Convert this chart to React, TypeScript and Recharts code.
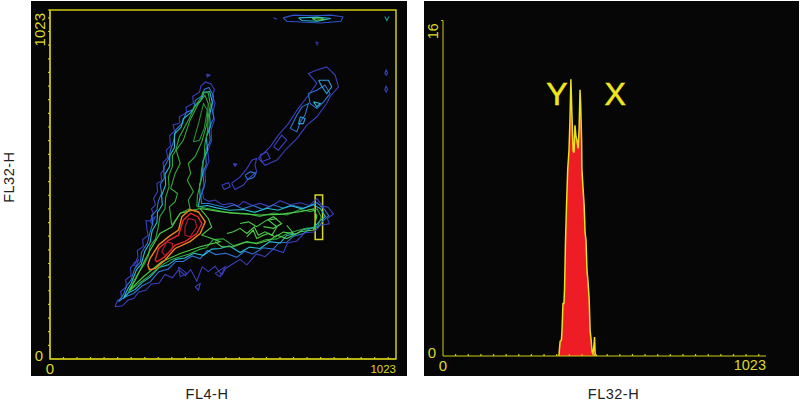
import { ScatterChart, Scatter, AreaChart, Area, XAxis, YAxis, ReferenceArea, ReferenceDot } from "recharts";

type Pt = [number, number];

// contour levels of the FL4-H / FL32-H plot, in channels
const outerBlue: Pt[] = [[192,153],[200,172],[212,178],[209,198],[226,212],[224,232],[240,245],[238,268],[252,280],[260,300],[258,318],[276,330],[274,350],[290,362],[286,385],[284,406],[298,404],[306,425],[300,440],[312,452],[306,470],[318,490],[316,515],[330,522],[328,545],[338,556],[334,575],[348,590],[344,612],[356,625],[354,655],[368,668],[364,686],[384,692],[382,710],[404,722],[402,738],[424,750],[422,770],[442,782],[446,800],[460,812],[476,806],[486,790],[480,770],[488,750],[482,725],[486,700],[476,672],[478,640],[466,610],[470,580],[458,550],[460,520],[450,495],[454,470],[470,462],[488,466],[510,452],[537,456],[556,448],[572,462],[598,450],[621,456],[650,446],[680,464],[710,452],[740,458],[768,450],[789,470],[806,448],[822,445],[838,425],[820,412],[826,396],[800,392],[780,372],[752,370],[730,346],[702,340],[690,312],[660,322],[636,300],[610,308],[582,276],[562,292],[542,280],[520,266],[508,246],[488,272],[468,256],[450,270],[434,228],[416,262],[400,244],[380,262],[362,238],[340,248],[322,222],[300,220],[284,202],[262,196],[248,178],[230,172],[214,156],[192,153]];
const midBlue: Pt[] = [[202,168],[218,190],[226,214],[240,232],[250,264],[268,286],[270,312],[288,340],[296,372],[304,398],[300,420],[316,436],[320,462],[330,486],[326,512],[338,530],[336,560],[350,585],[356,612],[366,640],[372,672],[392,692],[402,722],[424,732],[430,758],[450,772],[456,790],[470,796],[484,770],[478,740],[484,706],[470,676],[474,640],[460,610],[462,570],[452,545],[456,505],[446,480],[448,456],[470,456],[494,450],[520,444],[545,452],[570,440],[600,450],[630,438],[660,452],[690,442],[720,450],[750,442],[789,458],[812,438],[824,420],[806,404],[796,390],[770,384],[750,368],[720,360],[700,342],[676,340],[660,322],[630,326],[600,308],[575,316],[552,298],[520,310],[490,306],[465,318],[444,294],[420,302],[394,286],[372,286],[350,264],[322,256],[296,226],[272,214],[247,192],[222,182],[202,168]];
const cyanLevel: Pt[] = [[217,177],[230,205],[240,222],[256,262],[270,278],[280,315],[296,342],[302,376],[316,400],[318,430],[332,452],[330,480],[342,510],[340,542],[354,565],[354,596],[368,620],[368,660],[388,680],[394,704],[416,722],[430,742],[446,758],[456,782],[472,784],[480,752],[472,715],[474,680],[462,650],[466,612],[452,580],[452,544],[442,510],[444,476],[438,446],[465,450],[493,443],[530,436],[572,438],[605,430],[641,442],[675,436],[710,450],[745,440],[779,452],[800,440],[814,418],[795,402],[779,384],[750,380],[730,368],[700,362],[680,340],[650,344],[621,324],[590,328],[562,312],[530,332],[503,324],[478,322],[454,304],[425,310],[399,296],[372,292],[350,276],[322,268],[296,240],[272,224],[252,204],[232,194],[217,177]];
const greenLevel: Pt[] = [[232,197],[246,225],[261,252],[278,276],[290,300],[296,330],[312,352],[320,386],[325,418],[340,440],[342,474],[352,505],[350,535],[362,565],[362,596],[372,612],[382,650],[396,676],[412,706],[430,744],[448,768],[452,782],[468,780],[474,745],[468,710],[466,670],[458,630],[456,590],[448,556],[446,520],[436,480],[434,448],[462,442],[494,436],[530,428],[582,426],[620,418],[661,428],[700,422],[740,438],[770,432],[790,440],[802,416],[790,384],[760,384],[730,376],[702,368],[671,352],[640,350],[611,340],[575,342],[542,332],[512,352],[483,350],[462,326],[444,322],[412,308],[385,300],[360,292],[335,278],[310,258],[286,238],[258,218],[232,197]];
const upperArm: Pt[] = [[360,392],[353,446],[370,461],[377,485],[357,500],[370,544],[385,573],[373,612],[394,641],[414,700],[439,749],[458,773],[468,749],[464,690],[449,637],[429,593],[409,573],[416,544],[406,524],[424,490],[409,466],[414,441],[385,427],[360,392]];
const upperInner: Pt[] = [[424,637],[439,690],[454,749],[465,729],[456,676],[442,641],[424,637]];
const armLevel: Pt[] = [[444,441],[503,432],[562,426],[621,422],[680,424],[740,432],[779,440],[789,420],[779,378],[740,373],[700,353],[671,363],[651,349],[611,338],[582,344],[542,329],[507,329],[488,344]];
const armWiggle: Pt[] = [[523,368],[542,373],[562,383],[582,368],[604,387],[616,363],[636,373],[656,363],[671,387],[646,407],[671,412]];
const armWiggleB: Pt[] = [[562,397],[587,402],[611,388],[641,407],[661,417],[685,397],[661,383],[631,388]];
const armWiggleC: Pt[] = [[582,358],[601,378],[611,353],[631,363],[646,368],[666,358],[690,372],[720,368],[700,392]];
const blobGreen: Pt[] = [[235,202],[252,231],[276,280],[296,319],[325,368],[360,387],[385,427],[444,441],[468,412],[478,387],[449,363],[478,353],[503,344],[444,329],[385,309],[330,285],[276,241],[235,202]];
const orangeLevel: Pt[] = [[289,275],[296,295],[321,334],[350,358],[380,378],[390,417],[414,438],[439,431],[459,402],[444,368],[414,344],[370,324],[340,290],[311,265],[294,262],[289,275]];
const redLevel: Pt[] = [[311,290],[321,324],[350,348],[380,363],[394,407],[416,427],[437,417],[449,397],[434,368],[399,344],[370,334],[340,300],[316,285],[311,290]];
const peakOne: Pt[] = [[399,387],[409,412],[429,407],[434,387],[414,358],[399,363],[399,387]];
const peakTwo: Pt[] = [[330,314],[345,343],[363,339],[360,319],[340,304],[330,314]];
const diagLoopA: Pt[] = [[508,510],[528,517],[533,505],[515,497],[508,510]];
const diagLoopB: Pt[] = [[537,515],[562,534],[582,558],[597,583],[611,588],[606,568],[611,549],[587,529],[572,510],[547,497],[537,515]];
const diagLoopC: Pt[] = [[616,588],[651,622],[675,656],[705,690],[730,729],[764,773],[789,808],[764,837],[789,847],[818,856],[843,832],[853,798],[828,769],[818,749],[789,710],[759,685],[730,646],[700,617],[671,583],[636,568],[616,588]];
const diagDarkA: Pt[] = [[661,622],[685,656],[700,642],[675,612],[661,622]];
const diagDarkB: Pt[] = [[621,598],[641,607],[651,588],[626,578],[621,598]];
const diagMid: Pt[] = [[577,539],[592,549],[609,544],[602,532],[584,526],[577,539]];
const diagBlueA: Pt[] = [[710,676],[730,715],[745,739],[764,749],[754,715],[740,695],[730,666],[710,676]];
const diagBlueB: Pt[] = [[764,778],[789,788],[813,803],[828,778],[809,754],[789,734],[769,749],[764,778]];
const diagCyanA: Pt[] = [[794,817],[823,817],[833,798],[818,778],[804,798],[794,817]];
const diagCyanB: Pt[] = [[740,710],[754,705],[749,690],[735,690],[740,710]];
const diagCyanC: Pt[] = [[779,754],[799,749],[789,739],[779,754]];
const topOuter: Pt[] = [[689,1000],[720,1008],[780,1006],[830,1008],[866,1003],[860,990],[800,985],[740,988],[700,990],[689,1000]];
const topCyan: Pt[] = [[735,1000],[790,1002],[830,998],[790,990],[745,992],[735,1000]];
const topGreen: Pt[] = [[775,998],[800,1000],[810,995],[785,993],[775,998]];
const topDash: Pt[] = [[660,1000],[672,996],[660,1000]];
const cornerMark: Pt[] = [[990,1004],[996,992],[1002,1004]];
const sideSpotA: Pt[] = [[994,848],[998,838],[994,832],[990,838],[994,848]];
const sideSpotB: Pt[] = [[994,800],[998,790],[994,782],[990,790],[994,800]];
const strayDot: Pt[] = [[785,930],[793,928],[790,920],[785,930]];
const noiseA: Pt[] = [[296,407],[311,417],[301,397],[296,407]];
const noiseB: Pt[] = [[247,280],[261,290],[254,270],[247,280]];
const noiseC: Pt[] = [[488,251],[518,270],[503,241],[488,251]];
const noiseD: Pt[] = [[380,270],[404,251],[385,241],[380,270]];
const noiseE: Pt[] = [[429,212],[444,221],[439,202],[429,212]];
const noiseF: Pt[] = [[463,835],[473,832],[465,827],[463,835]];
const noiseG: Pt[] = [[542,573],[552,571],[547,565],[542,573]];

const DARK = "#3b3fbe";
const BLUE = "#2d74d4";
const CYAN = "#28bcd2";
const GREEN = "#2fa83c";
const LIME = "#4ecb4a";

const contours: { points: Pt[]; color: string; width?: number }[] = [
  { points: outerBlue, color: DARK },
  { points: diagLoopA, color: DARK },
  { points: diagLoopB, color: DARK },
  { points: diagLoopC, color: DARK },
  { points: diagDarkA, color: DARK },
  { points: diagDarkB, color: DARK },
  { points: noiseA, color: DARK },
  { points: noiseB, color: DARK },
  { points: noiseC, color: DARK },
  { points: noiseD, color: DARK },
  { points: noiseE, color: DARK },
  { points: noiseF, color: DARK },
  { points: noiseG, color: DARK },
  { points: topOuter, color: "#2f52cc" },
  { points: topDash, color: DARK },
  { points: sideSpotA, color: DARK },
  { points: sideSpotB, color: DARK },
  { points: strayDot, color: "#2b2c8c" },
  { points: midBlue, color: BLUE },
  { points: diagMid, color: BLUE },
  { points: diagBlueA, color: BLUE },
  { points: diagBlueB, color: BLUE },
  { points: diagCyanA, color: "#2d9fdc" },
  { points: diagCyanB, color: "#2d9fdc" },
  { points: diagCyanC, color: CYAN },
  { points: cyanLevel, color: CYAN },
  { points: topCyan, color: CYAN },
  { points: cornerMark, color: "#1f9a9a" },
  { points: greenLevel, color: GREEN },
  { points: upperArm, color: "#3aa83a" },
  { points: upperInner, color: "#2a8f38" },
  { points: armLevel, color: LIME },
  { points: armWiggle, color: LIME },
  { points: armWiggleB, color: LIME },
  { points: armWiggleC, color: LIME },
  { points: blobGreen, color: LIME },
  { points: topGreen, color: "#5fd04f" },
  { points: orangeLevel, color: "#ee8422", width: 1.4 },
  { points: redLevel, color: "#e8252a", width: 1.4 },
  { points: peakOne, color: "#b81c30" },
  { points: peakTwo, color: "#b81c30" },
];

// histogram of the gated region
const histChannels = [367,371,375,377,380,383,385,388,391,395,399,402,405,408,412,415,418,421,424,428,431,434,436,439,440,444,447,450,453,456,459,463,466,469,472,475,478,480,482,487];
const histCounts = [0,0.7,0.76,1.24,2.5,2.5,3.2,5.5,7.1,8.9,9.8,11.2,13.2,11.7,9.8,9.7,11,10.5,10.3,9.9,10.8,12.7,12,10.3,8.9,7.9,7.2,5.9,5.5,4.1,3.6,2.7,1.2,0.8,0.2,0.1,0.5,0.9,0.1,0];
const histData = histChannels.map((ch, i) => ({ ch, count: histCounts[i] }));

const channelTicks = [0,40,80,120,160,200,240,280,320,360,400,440,480,520,560,600,640,680,720,760,800,840,880,920,960,1000,1023];
const countTicks = [0, 16];

const YELLOW = "#dcd828";
const AXIS = "#cfcb14";
const FONT = "'Liberation Sans', Arial, sans-serif";

function makeXTick(size: number) {
  return ({ x, y, payload }: any) => {
    const v = payload.value;
    return (
      <g>
        {v !== 0 && v !== 1023 && <line x1={x} x2={x} y1={y} y2={y - 2} stroke={AXIS} strokeWidth={1.2} />}
        {v === 0 && <text x={x} y={y + 15} textAnchor="middle" fontSize={15} fontFamily={FONT} fill={YELLOW}>0</text>}
        {v === 1023 && <text x={x} y={y + 14} textAnchor="end" fontSize={size} fontFamily={FONT} fill={YELLOW}>1023</text>}
      </g>
    );
  };
}

function makeYTick(top: string, size: number) {
  return ({ x, y, payload }: any) => {
    const v = payload.value;
    const isTop = v === 1023 || v === 16;
    return (
      <g>
        {v !== 0 && <line x1={x} x2={x - 2} y1={y} y2={y} stroke={AXIS} strokeWidth={1.2} />}
        {v === 0 && <text x={x - 11} y={y + 2} textAnchor="middle" fontSize={15} fontFamily={FONT} fill={YELLOW}>0</text>}
        {isTop && (
          <text x={x - 5} y={y + 3} textAnchor="end" fontSize={size} fontFamily={FONT} fill={YELLOW} transform={`rotate(-90 ${x - 5} ${y + 3})`}>
            {top}
          </text>
        )}
      </g>
    );
  };
}

const noShape = () => <g />;

function ContourPlot() {
  return (
    <ScatterChart width={420} height={402} margin={{ top: 10, right: 24, bottom: 42, left: 49 }}>
      <XAxis
        type="number"
        dataKey="x"
        domain={[0, 1023]}
        ticks={channelTicks}
        interval={0}
        height={1}
        allowDataOverflow
        stroke={AXIS}
        tickLine={false}
        tickSize={0}
        tickMargin={0}
        tick={makeXTick(11.5)}
        label={{ value: "FL4-H", position: "bottom", offset: 29, dx: -16, fontSize: 14.5, fontFamily: FONT, fill: "#222", letterSpacing: 0.5 }}
      />
      <YAxis
        type="number"
        dataKey="y"
        domain={[0, 1023]}
        ticks={channelTicks}
        interval={0}
        width={1}
        allowDataOverflow
        stroke={AXIS}
        tickLine={false}
        tickSize={0}
        tickMargin={0}
        tick={makeYTick("1023", 15)}
        label={{ value: "FL32-H", angle: -90, position: "left", offset: 40, dy: -33, fontSize: 14.5, fontFamily: FONT, fill: "#222", letterSpacing: 0.5 }}
      />
      <ReferenceArea x1={0} x2={1023} y1={0} y2={1023} fill="none" stroke={AXIS} strokeWidth={1.5} />
      {contours.map((c, i) => (
        <Scatter
          key={i}
          data={c.points.map(([x, y]) => ({ x, y }))}
          line={{ stroke: c.color, strokeWidth: c.width ?? 1.1 }}
          lineType="joint"
          shape={noShape}
          isAnimationActive={false}
        />
      ))}
      <ReferenceArea x1={784} x2={806} y1={350} y2={481} fill="none" stroke={YELLOW} strokeWidth={1.5} />
    </ScatterChart>
  );
}

function Histogram() {
  return (
    <AreaChart width={380} height={402} data={histData} margin={{ top: 20.5, right: 34, bottom: 45, left: 22 }}>
      <XAxis
        type="number"
        dataKey="ch"
        domain={[0, 1023]}
        ticks={channelTicks}
        interval={0}
        height={1}
        allowDataOverflow
        stroke={AXIS}
        tickLine={false}
        tickSize={0}
        tickMargin={0}
        tick={makeXTick(14.5)}
        label={{ value: "FL32-H", position: "bottom", offset: 32, dx: 9, fontSize: 14.5, fontFamily: FONT, fill: "#222", letterSpacing: 0.5 }}
      />
      <YAxis
        type="number"
        domain={[0, 16]}
        ticks={countTicks}
        interval={0}
        width={1}
        allowDataOverflow
        stroke={AXIS}
        tickLine={false}
        tickSize={0}
        tickMargin={0}
        tick={makeYTick("16", 14)}
      />
      <Area type="linear" dataKey="count" stroke="#e8e020" strokeWidth={1.5} fill="#ee1c25" fillOpacity={1} isAnimationActive={false} />
      <ReferenceDot x={361} y={12.5} r={0} fill="none" stroke="none" label={{ value: "Y", position: "center", fontSize: 32, fontFamily: FONT, fill: "#f0e620", stroke: "#f0e620", strokeWidth: 0.5 }} />
      <ReferenceDot x={545} y={12.5} r={0} fill="none" stroke="none" label={{ value: "X", position: "center", fontSize: 32, fontFamily: FONT, fill: "#f0e620", stroke: "#f0e620", strokeWidth: 0.5 }} />
    </AreaChart>
  );
}

export default function App() {
  return (
    <div style={{ position: "fixed", left: 0, top: 0, width: 800, height: 402, background: "#fff", overflow: "hidden" }}>
      <div style={{ position: "absolute", left: 31, top: 1, width: 376, height: 375, background: "#060606" }} />
      <div style={{ position: "absolute", left: 424, top: 1, width: 375, height: 375, background: "#060606" }} />
      <div style={{ position: "absolute", left: 0, top: 0 }}>
        <ContourPlot />
      </div>
      <div style={{ position: "absolute", left: 420, top: 0 }}>
        <Histogram />
      </div>
    </div>
  );
}
